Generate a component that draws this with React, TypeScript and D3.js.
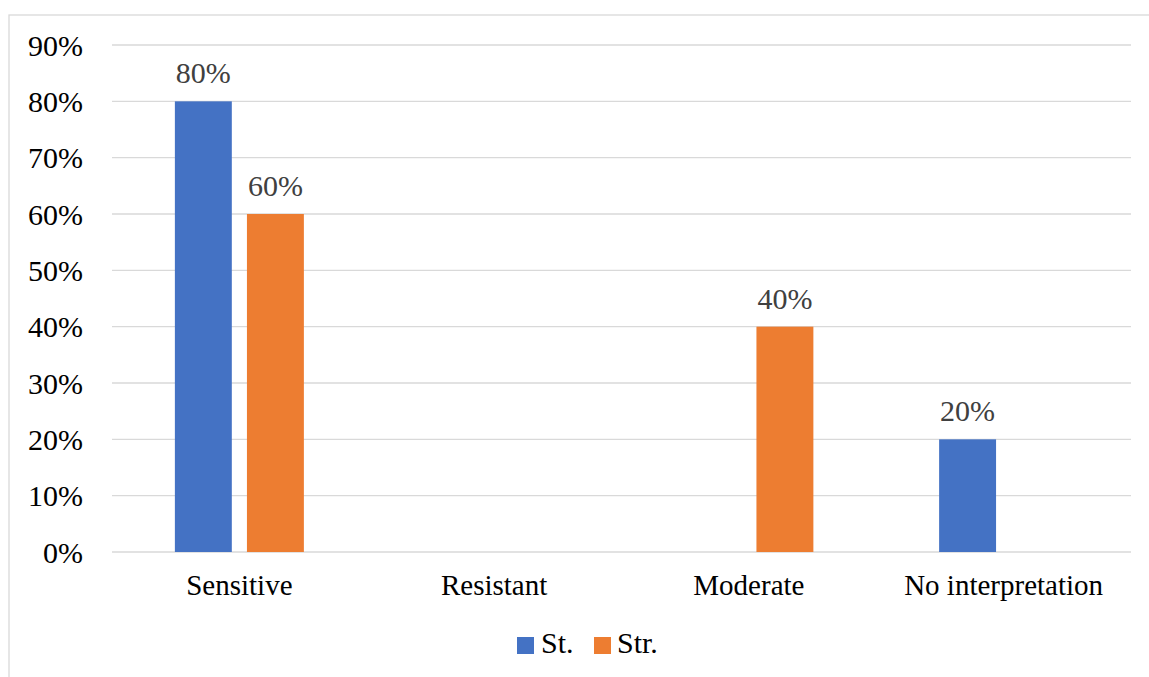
import { useEffect } from "react";
import * as d3 from "d3";

const categories = ["Sensitive", "Resistant", "Moderate", "No interpretation"];
const seriesNames = ["St.", "Str."];
const stValues = [0.8, 0, 0, 0.2];
const strValues = [0.6, 0, 0.4, 0];
const yTicks = [0, 0.1, 0.2, 0.3, 0.4, 0.5, 0.6, 0.7, 0.8, 0.9];
const colors = ["#4472C4", "#ED7D31"];

const W = 1149;
const H = 677;
const font = "Liberation Serif, DejaVu Serif, serif";

export default function App() {
  useEffect(() => {
    document.body.style.margin = "0";
  }, []);

  const x = d3.scaleBand<string>().domain(categories).range([112, 1131]);
  const groupW = 129;
  const xSub = d3.scaleBand<string>().domain(seriesNames).range([0, groupW]).paddingInner(0.21);
  const y = d3.scaleLinear().domain([0, 0.9]).range([552, 45]);
  const pct = d3.format(".0%");

  const values = [stValues, strValues];

  return (
    <svg width={W} height={H} style={{ display: "block", background: "#fff", fontFamily: font }}>
      <rect x={9} y={15} width={W + 10} height={H + 10} fill="#fff" stroke="#d9d9d9" strokeWidth={1.3} />
      {yTicks.map((t) => (
        <g key={t}>
          <line x1={112} x2={1131} y1={y(t)} y2={y(t)} stroke="#d9d9d9" strokeWidth={1.4} />
          <text x={83} y={y(t)} dy="0.35em" textAnchor="end" fontSize={30} fill="#000">
            {pct(t)}
          </text>
        </g>
      ))}
      {categories.map((c, i) => {
        const gx = (x(c) ?? 0) + (x.bandwidth() - groupW) / 2;
        return (
          <g key={c}>
            {seriesNames.map((s, j) => {
              const v = values[j][i];
              if (!v) return null;
              const bx = gx + (xSub(s) ?? 0);
              return (
                <g key={s}>
                  <rect x={bx} y={y(v)} width={xSub.bandwidth()} height={y(0) - y(v)} fill={colors[j]} />
                  <text x={bx + xSub.bandwidth() / 2} y={y(v) - 18} textAnchor="middle" fontSize={30} fill="#404040">
                    {pct(v)}
                  </text>
                </g>
              );
            })}
            <text x={(x(c) ?? 0) + x.bandwidth() / 2} y={595} textAnchor="middle" fontSize={29} fill="#000">
              {c}
            </text>
          </g>
        );
      })}
      <g>
        <rect x={517} y={637} width={17} height={17} fill={colors[0]} />
        <text x={541} y={653} fontSize={30} fill="#000">{seriesNames[0]}</text>
        <rect x={594} y={637} width={17} height={17} fill={colors[1]} />
        <text x={617} y={653} fontSize={30} fill="#000">{seriesNames[1]}</text>
      </g>
    </svg>
  );
}
